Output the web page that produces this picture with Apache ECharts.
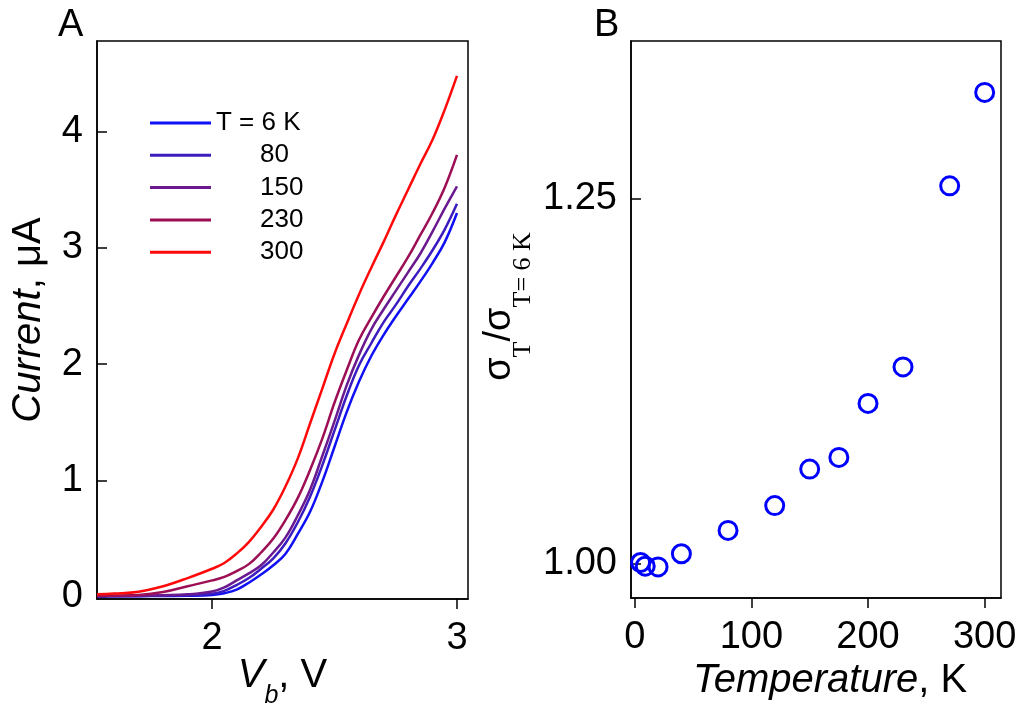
<!DOCTYPE html>
<html>
<head>
<meta charset="utf-8">
<script src="https://cdn.jsdelivr.net/npm/echarts@6/dist/echarts.min.js"></script>
<style>html,body{margin:0;padding:0;background:#fff;}#c{width:1019px;height:706px;}</style>
</head>
<body>
<div id="c"></div>
<script>
// ---- Panel A data: current (uA) vs bias voltage (V) ----
const voltage = [1.53, 1.6, 1.7, 1.8, 1.9, 2.0, 2.05, 2.1, 2.15, 2.2, 2.25, 2.3, 2.35, 2.4, 2.45, 2.5, 2.55, 2.6, 2.65, 2.7, 2.75, 2.8, 2.85, 2.9, 2.95, 3.0];
const current6K   = [0.002, 0.003, 0.004, 0.006, 0.008, 0.015, 0.03, 0.06, 0.12, 0.19, 0.27, 0.37, 0.54, 0.73, 0.99, 1.29, 1.59, 1.85, 2.07, 2.25, 2.41, 2.56, 2.71, 2.87, 3.05, 3.30];
const current80K  = [0.003, 0.004, 0.006, 0.009, 0.013, 0.025, 0.05, 0.10, 0.16, 0.24, 0.33, 0.46, 0.64, 0.86, 1.13, 1.43, 1.73, 1.99, 2.18, 2.36, 2.51, 2.67, 2.82, 2.98, 3.16, 3.38];
const current150K = [0.005, 0.006, 0.008, 0.012, 0.02, 0.045, 0.08, 0.14, 0.20, 0.27, 0.38, 0.51, 0.70, 0.92, 1.21, 1.51, 1.82, 2.08, 2.30, 2.47, 2.63, 2.79, 2.95, 3.14, 3.34, 3.53];
const current230K = [0.005, 0.008, 0.014, 0.04, 0.09, 0.14, 0.17, 0.22, 0.28, 0.38, 0.50, 0.66, 0.85, 1.09, 1.36, 1.67, 1.95, 2.21, 2.40, 2.58, 2.75, 2.92, 3.11, 3.30, 3.52, 3.80];
const current300K = [0.02, 0.027, 0.043, 0.09, 0.16, 0.24, 0.29, 0.37, 0.47, 0.60, 0.75, 0.95, 1.19, 1.49, 1.79, 2.09, 2.35, 2.60, 2.83, 3.05, 3.28, 3.50, 3.72, 3.93, 4.19, 4.48];
const seriesNames = ['T = 6 K', '80', '150', '230', '300'];
const seriesColors = ['#1010f5', '#3c1cbe', '#6a1a8e', '#9c0f55', '#ff0a0a'];
const currents = [current6K, current80K, current150K, current230K, current300K];
const ticksA_x = [2, 3];
const ticksA_y = [0, 1, 2, 3, 4];

// ---- Panel B data: normalized conductance vs temperature ----
const temperature = [5, 9, 20, 40, 80, 120, 150, 175, 200, 230, 270, 300];
const sigmaRatio  = [1.001, 0.9985, 0.998, 1.007, 1.023, 1.040, 1.065, 1.073, 1.110, 1.135, 1.259, 1.323];
const ticksB_x = [0, 100, 200, 300];
const ticksB_y = [1.00, 1.25];

const FONT = 'Liberation Sans';
const chart = echarts.init(document.getElementById('c'), null, {renderer: 'canvas'});

const lineSeries = seriesNames.map((n, i) => ({
  type: 'line', name: n, xAxisIndex: 0, yAxisIndex: 0,
  data: voltage.map((v, k) => [v, currents[i][k]]),
  smooth: 0.4, showSymbol: false, symbol: 'none',
  lineStyle: {color: seriesColors[i], width: 2.5},
  itemStyle: {color: seriesColors[i]},
  z: 2 + i
}));

const axisCommon = {
  axisLine: {show: true, onZero: false, lineStyle: {color: '#000', width: 1.5}},
  splitLine: {show: false},
  nameMoveOverlap: false
};

chart.setOption({
  animation: false,
  backgroundColor: '#fff',
  textStyle: {fontFamily: FONT},
  title: [
    {text: 'A', left: 53, top: 2, textStyle: {fontFamily: FONT, fontSize: 38, fontWeight: 'normal', color: '#000'}},
    {text: 'B', left: 589, top: 2, textStyle: {fontFamily: FONT, fontSize: 38, fontWeight: 'normal', color: '#000'}}
  ],
  legend: {
    data: seriesNames,
    orient: 'vertical', left: 145, top: 105,
    icon: 'rect', itemWidth: 61, itemHeight: 3, itemGap: 6.3,
    formatter: n => n === 'T = 6 K' ? '{a|' + n + '}' : '{p|' + n + '}',
    textStyle: {
      fontFamily: FONT, fontSize: 26, color: '#000', lineHeight: 26,
      rich: {
        a: {fontFamily: FONT, fontSize: 26, lineHeight: 26, color: '#000'},
        p: {fontFamily: FONT, fontSize: 26, lineHeight: 26, color: '#000', padding: [0, 0, 0, 44]}
      }
    }
  },
  grid: [
    {left: 97, top: 41, width: 371, height: 558, show: true, borderColor: '#000', borderWidth: 1.5, backgroundColor: 'transparent', outerBoundsMode: 'none', containLabel: false},
    {left: 631, top: 41, width: 370, height: 557, show: true, borderColor: '#000', borderWidth: 1.5, backgroundColor: 'transparent', outerBoundsMode: 'none', containLabel: false}
  ],
  xAxis: [
    Object.assign({}, axisCommon, {
      type: 'value', gridIndex: 0, min: 1.53, max: 3.045,
      axisTick: {show: true, inside: false, length: 10, customValues: ticksA_x, lineStyle: {color: '#000', width: 1.5}},
      axisLabel: {customValues: ticksA_x, margin: 21, fontFamily: FONT, fontSize: 38, color: '#000'},
      name: '{i|V}{sb|b}{n|, V}', nameLocation: 'middle', nameGap: 44,
      nameTextStyle: {
        rich: {
          i: {fontFamily: FONT, fontStyle: 'italic', fontSize: 40, lineHeight: 66, color: '#000'},
          sb: {fontFamily: FONT, fontStyle: 'italic', fontSize: 25, lineHeight: 25, verticalAlign: 'bottom', color: '#000'},
          n: {fontFamily: FONT, fontSize: 40, lineHeight: 66, color: '#000'}
        }
      }
    }),
    Object.assign({}, axisCommon, {
      type: 'value', gridIndex: 1, min: -3.2, max: 314,
      axisTick: {show: true, inside: false, length: 10, customValues: ticksB_x, lineStyle: {color: '#000', width: 1.5}},
      axisLabel: {customValues: ticksB_x, margin: 21, fontFamily: FONT, fontSize: 38, color: '#000'},
      name: '{i|Temperature}{n|, K}', nameLocation: 'middle', nameGap: 61,
      nameTextStyle: {
        padding: [0, 0, 0, 28],
        rich: {
          i: {fontFamily: FONT, fontStyle: 'italic', fontSize: 40, lineHeight: 44, color: '#000'},
          n: {fontFamily: FONT, fontSize: 40, lineHeight: 44, color: '#000'}
        }
      }
    })
  ],
  yAxis: [
    Object.assign({}, axisCommon, {
      type: 'value', gridIndex: 0, min: -0.02, max: 4.78,
      axisTick: {show: true, inside: true, length: 10, customValues: ticksA_y, lineStyle: {color: '#000', width: 1.5}},
      axisLabel: {customValues: ticksA_y, margin: 14, fontFamily: FONT, fontSize: 38, color: '#000'},
      name: '{i|Current}{n|, μA}', nameLocation: 'middle', nameGap: 46, nameRotate: 90,
      nameTextStyle: {
        rich: {
          i: {fontFamily: FONT, fontStyle: 'italic', fontSize: 40, lineHeight: 44, color: '#000'},
          n: {fontFamily: FONT, fontSize: 40, lineHeight: 44, color: '#000'}
        }
      }
    }),
    Object.assign({}, axisCommon, {
      type: 'value', gridIndex: 1, min: 0.9767, max: 1.3582,
      axisTick: {show: true, inside: true, length: 10, customValues: ticksB_y, lineStyle: {color: '#000', width: 1.5}},
      axisLabel: {customValues: ticksB_y, margin: 14, fontFamily: FONT, fontSize: 38, color: '#000', formatter: v => v.toFixed(2)},
      name: '{s|σ}{sub|T}{s|/σ}{sub|T= 6 K}', nameLocation: 'middle', nameGap: 95, nameRotate: 90,
      nameTextStyle: {
        padding: [0, 0, 0, 26],
        rich: {
          s: {fontFamily: FONT, fontSize: 38, lineHeight: 72, color: '#000'},
          sub: {fontFamily: 'Liberation Serif', fontSize: 26, lineHeight: 26, verticalAlign: 'bottom', color: '#000'}
        }
      }
    })
  ],
  series: lineSeries.concat([{
    type: 'scatter', name: 'sigma', xAxisIndex: 1, yAxisIndex: 1,
    data: temperature.map((t, k) => [t, sigmaRatio[k]]),
    symbol: 'circle', symbolSize: 18,
    itemStyle: {color: 'rgba(0,0,0,0)', borderColor: '#0000ff', borderWidth: 3, opacity: 1},
    z: 5
  }])
});
</script>
</body>
</html>
